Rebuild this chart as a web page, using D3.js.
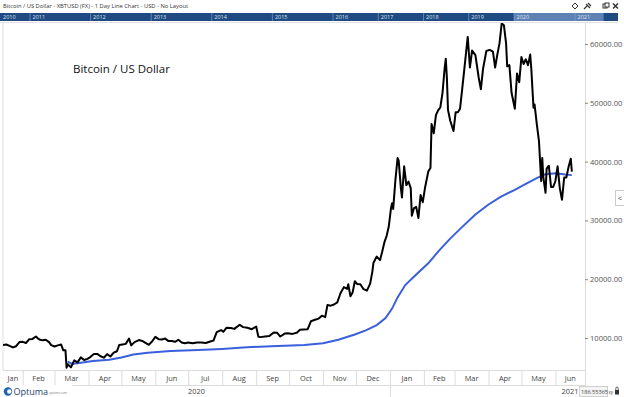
<!DOCTYPE html>
<html>
<head>
<meta charset="utf-8">
<script src="https://cdn.jsdelivr.net/npm/d3@7"></script>
<style>
body { margin: 0; background: #fff; }
svg { display: block; font-family: "Open Sans", sans-serif; }
</style>
</head>
<body>
<script>
// daily closes
const priceDates = [
  "2020-01-14","2020-01-17","2020-01-20","2020-01-23","2020-01-26","2020-01-29","2020-02-01","2020-02-04","2020-02-07","2020-02-10",
  "2020-02-13","2020-02-15","2020-02-17","2020-02-19","2020-02-22","2020-02-25","2020-02-27","2020-03-01","2020-03-04","2020-03-07",
  "2020-03-09","2020-03-11","2020-03-12","2020-03-13","2020-03-16","2020-03-19","2020-03-22","2020-03-25","2020-03-28","2020-03-31",
  "2020-04-03","2020-04-06","2020-04-09","2020-04-12","2020-04-15","2020-04-18","2020-04-21","2020-04-24","2020-04-27","2020-04-29",
  "2020-05-02","2020-05-05","2020-05-08","2020-05-10","2020-05-13","2020-05-17","2020-05-20","2020-05-23","2020-05-26","2020-05-29",
  "2020-06-01","2020-06-04","2020-06-07","2020-06-10","2020-06-13","2020-06-16","2020-06-19","2020-06-22","2020-06-25","2020-06-28",
  "2020-07-01","2020-07-05","2020-07-09","2020-07-13","2020-07-17","2020-07-21","2020-07-24","2020-07-27","2020-07-31","2020-08-02",
  "2020-08-05","2020-08-09","2020-08-12","2020-08-17","2020-08-20","2020-08-24","2020-08-28","2020-09-01","2020-09-03","2020-09-05",
  "2020-09-09","2020-09-13","2020-09-17","2020-09-20","2020-09-23","2020-09-27","2020-09-30","2020-10-04","2020-10-08","2020-10-11",
  "2020-10-14","2020-10-18","2020-10-21","2020-10-24","2020-10-28","2020-10-31","2020-11-03","2020-11-05","2020-11-08","2020-11-11",
  "2020-11-14","2020-11-17","2020-11-20","2020-11-23","2020-11-24","2020-11-26","2020-11-28","2020-11-30","2020-12-02","2020-12-05",
  "2020-12-08","2020-12-11","2020-12-14","2020-12-16","2020-12-17","2020-12-20","2020-12-23","2020-12-25","2020-12-27","2020-12-29",
  "2020-12-31","2021-01-02","2021-01-03","2021-01-04","2021-01-06","2021-01-08","2021-01-09","2021-01-11","2021-01-12","2021-01-14",
  "2021-01-16","2021-01-18","2021-01-20","2021-01-21","2021-01-23","2021-01-25","2021-01-27","2021-01-29","2021-01-31","2021-02-02",
  "2021-02-05","2021-02-07","2021-02-08","2021-02-10","2021-02-12","2021-02-14","2021-02-16","2021-02-18","2021-02-20","2021-02-21",
  "2021-02-22","2021-02-23","2021-02-25","2021-02-28","2021-03-02","2021-03-04","2021-03-06","2021-03-08","2021-03-10","2021-03-13",
  "2021-03-15","2021-03-17","2021-03-20","2021-03-23","2021-03-25","2021-03-27","2021-03-30","2021-04-02","2021-04-05","2021-04-07",
  "2021-04-09","2021-04-11","2021-04-13","2021-04-15","2021-04-17","2021-04-18","2021-04-20","2021-04-22","2021-04-25","2021-04-27",
  "2021-04-29","2021-05-01","2021-05-03","2021-05-05","2021-05-07","2021-05-09","2021-05-10","2021-05-12","2021-05-13","2021-05-15",
  "2021-05-17","2021-05-19","2021-05-20","2021-05-21","2021-05-23","2021-05-24","2021-05-26","2021-05-28","2021-05-30","2021-06-01",
  "2021-06-03","2021-06-05","2021-06-07","2021-06-09","2021-06-11","2021-06-13","2021-06-15","2021-06-16"
];
const priceValues = [
  8800,8900,8650,8400,8600,9300,9350,9150,9800,9850,
  10250,9900,9700,9600,9700,9300,8800,8550,8750,8900,
  7900,7900,4950,5550,5000,6200,5850,6700,6250,6450,
  6800,7300,7300,6900,6650,7250,6850,7500,7750,8800,
  8900,9000,9900,8750,9300,9650,9500,9170,8850,9400,
  10200,9800,9750,9900,9470,9500,9350,9700,9250,9100,
  9250,9100,9250,9250,9150,9400,9550,11000,11350,11050,
  11750,11700,11550,12250,11850,11750,11500,11950,10200,10150,
  10250,10350,10950,10900,10250,10750,10800,10700,10900,11400,
  11450,11500,12850,13050,13300,13800,13550,15600,15500,15700,
  16050,17650,18650,18350,19150,17100,17750,19650,19200,19150,
  18300,18050,19250,21300,22800,23850,23250,24700,26300,27350,
  29000,32100,32900,31950,36800,40600,40200,35500,33900,39200,
  36000,36600,35500,30800,32100,32300,30400,34300,33100,35500,
  38300,38900,46400,44800,47900,48700,49200,51700,56000,57500,
  54200,48800,47000,45200,48400,48400,49000,52400,55900,61200,
  56000,58900,58100,54300,52300,55800,58800,59000,58700,56000,
  58200,60100,63500,63200,60100,56200,56400,51700,49000,55000,
  53500,57800,56600,57400,56400,58200,55800,49150,49700,46400,
  43500,36700,40600,37300,34700,38800,39300,35700,35700,36700,
  39200,35500,33500,37300,37300,39100,40500,38300
];

// anchored average (blue)
const avgDates = [
  "2020-03-13","2020-03-17","2020-03-25","2020-04-05","2020-04-20","2020-05-01","2020-05-12","2020-05-25","2020-06-15","2020-07-10",
  "2020-08-01","2020-08-20","2020-09-15","2020-10-15","2020-11-01","2020-11-15","2020-11-30","2020-12-10","2020-12-20","2020-12-28",
  "2021-01-03","2021-01-08","2021-01-15","2021-01-25","2021-02-05","2021-02-15","2021-02-25","2021-03-08","2021-03-20","2021-04-01",
  "2021-04-12","2021-04-25","2021-05-05","2021-05-15","2021-05-22","2021-06-01","2021-06-10","2021-06-16"
];
const avgValues = [
  6000,5600,5800,6100,6300,6700,7200,7500,7800,7950,
  8150,8400,8600,8800,9100,9700,10600,11300,12200,13400,
  15000,16900,19000,20800,22700,24900,26900,28900,31000,32700,
  34000,35200,36200,37200,37800,38000,37800,37700
];

const priceTicks = [10000, 20000, 30000, 40000, 50000, 60000];
const navYears = [2010, 2011, 2012, 2013, 2014, 2015, 2016, 2017, 2018, 2019, 2020, 2021];

const width = 624, height = 397;
const plotLeft = 3, plotRight = 585, plotTop = 23, plotBottom = 370;
const parse = d3.timeParse("%Y-%m-%d");

const price = priceDates.map((d, i) => ({date: parse(d), value: priceValues[i]}));
const avg = avgDates.map((d, i) => ({date: parse(d), value: avgValues[i]}));

const x = d3.scaleTime()
  .domain([new Date(2020, 0, 14), new Date(2021, 5, 28)])
  .range([plotLeft, plotRight]);
const y = d3.scaleLinear().domain([0, 60000]).range([396.8, 44]);

const svg = d3.select("body").append("svg").attr("width", width).attr("height", height);

svg.append("defs").append("clipPath").attr("id", "plotclip")
  .append("rect").attr("x", plotLeft).attr("y", plotTop)
  .attr("width", plotRight - plotLeft).attr("height", plotBottom - plotTop);

// header
svg.append("text").attr("x", 3).attr("y", 8).attr("font-size", 5.8).attr("fill", "#333")
  .text("Bitcoin / US Dollar - XBTUSD (FX) - 1 Day Line Chart - USD - No Layout");

const icons = svg.append("g").attr("fill", "none").attr("stroke", "#333").attr("stroke-width", 1);
icons.append("path").attr("d", "M575,3 L578,6 L575,9 L572,6 Z");
icons.append("path").attr("d", "M584,9 L587,6 M586,4 L590,8 M588,3 L591,6").attr("stroke-width", 1.2);
icons.append("rect").attr("x", 603).attr("y", 4).attr("width", 4).attr("height", 4);
icons.append("rect").attr("x", 605).attr("y", 3).attr("width", 4).attr("height", 4).attr("fill", "#fff");
icons.append("path").attr("d", "M613,3.5 L618,8.5 M618,3.5 L613,8.5").attr("stroke-width", 1.5);

// navigator bar
const nav = d3.scaleLinear()
  .domain([2010, 2011, 2016, 2020, 2021, 2022])
  .range([1, 30, 333, 514, 575, 636]);
svg.append("rect").attr("x", 0).attr("y", 13).attr("width", 618).attr("height", 8).attr("fill", "#1f4a82");
svg.append("rect").attr("x", nav(2020)).attr("y", 13).attr("width", nav(2021.47) - nav(2020)).attr("height", 8)
  .attr("fill", "#5f82b5");
svg.append("g").selectAll("line").data(navYears.slice(1)).join("line")
  .attr("x1", d => nav(d)).attr("x2", d => nav(d)).attr("y1", 13).attr("y2", 21)
  .attr("stroke", "#8fa8cc").attr("stroke-width", 0.6);
svg.append("g").selectAll("text").data(navYears).join("text")
  .attr("x", d => d === 2010 ? 3 : nav(d) + 2.5).attr("y", 19.3)
  .attr("font-size", 5.5).attr("fill", "#dbe4f0").text(d => d);
svg.append("line").attr("x1", 0).attr("x2", 618).attr("y1", 22.5).attr("y2", 22.5).attr("stroke", "#e2e2e2");

// plot frame
svg.append("line").attr("x1", plotLeft).attr("x2", plotLeft).attr("y1", plotTop).attr("y2", plotBottom).attr("stroke", "#e0e0e0");
svg.append("line").attr("x1", plotRight + 0.5).attr("x2", plotRight + 0.5).attr("y1", plotTop).attr("y2", height).attr("stroke", "#dcdcdc");
svg.append("line").attr("x1", plotLeft).attr("x2", plotRight).attr("y1", plotBottom + 0.5).attr("y2", plotBottom + 0.5).attr("stroke", "#dcdcdc");

// right price axis
const yAxis = svg.append("g").attr("transform", `translate(${plotRight},0)`)
  .call(d3.axisRight(y).tickValues(priceTicks).tickFormat(d3.format(".2f")).tickSize(3).tickPadding(2));
yAxis.select(".domain").remove();
yAxis.selectAll("line").attr("stroke", "#888");
yAxis.selectAll("text").attr("font-size", 7.6).attr("fill", "#555").attr("font-family", "Open Sans, sans-serif");

// lines
const line = d3.line().x(d => x(d.date)).y(d => y(d.value));
const plotG = svg.append("g").attr("clip-path", "url(#plotclip)");
plotG.append("path").datum(avg).attr("d", line).attr("fill", "none")
  .attr("stroke", "#3a5fdc").attr("stroke-width", 2);
plotG.append("path").datum(price).attr("d", line).attr("fill", "none")
  .attr("stroke", "#000").attr("stroke-width", 2).attr("stroke-linejoin", "round");

svg.append("text").attr("x", 73).attr("y", 73).attr("font-size", 11.5).attr("fill", "#111")
  .text("Bitcoin / US Dollar");

// month row
const [d0, d1] = x.domain();
const months = d3.timeMonth.range(d3.timeMonth.floor(d0), d1);
const fmt = d3.timeFormat("%b");
svg.append("g").selectAll("line").data(months.filter(m => m > d0)).join("line")
  .attr("x1", d => x(d) + 0.5).attr("x2", d => x(d) + 0.5).attr("y1", plotBottom).attr("y2", 385)
  .attr("stroke", "#dcdcdc");
svg.append("g").selectAll("text").data(months).join("text")
  .attr("x", d => {
    const a = Math.max(x(d), plotLeft), b = Math.min(x(d3.timeMonth.offset(d, 1)), plotRight);
    return (a + b) / 2;
  })
  .attr("y", 380.5).attr("text-anchor", "middle").attr("font-size", 7.4).attr("fill", "#444")
  .text(d => fmt(d));

// year row
const yearStart = new Date(2021, 0, 1);
svg.append("line").attr("x1", 72).attr("x2", plotRight).attr("y1", 385.5).attr("y2", 385.5).attr("stroke", "#dcdcdc");
svg.append("line").attr("x1", x(yearStart) + 0.5).attr("x2", x(yearStart) + 0.5).attr("y1", 385).attr("y2", height)
  .attr("stroke", "#dcdcdc");
svg.append("text").attr("x", (plotLeft + x(yearStart)) / 2).attr("y", 394).attr("text-anchor", "middle")
  .attr("font-size", 7.4).attr("fill", "#444").text("2020");
svg.append("text").attr("x", 578.5).attr("y", 394).attr("text-anchor", "end")
  .attr("font-size", 7.4).attr("fill", "#444").text("2021");

// bottom right readout
svg.append("rect").attr("x", 579.5).attr("y", 386.5).attr("width", 28).attr("height", 10).attr("fill", "#f4f4f4").attr("stroke", "#d0d0d0");
svg.append("text").attr("x", 581).attr("y", 394).attr("font-size", 5.6).attr("fill", "#444").text("186.55365");
svg.append("text").attr("x", 608.5).attr("y", 393.5).attr("font-size", 4.5).attr("fill", "#444").text("xy");
svg.append("rect").attr("x", 615).attr("y", 390).attr("width", 4).attr("height", 4.5).attr("fill", "#333");
svg.append("path").attr("d", "M615.8,390 V388.3 A1.2,1.2 0 0 1 618.2,388.3 V390").attr("fill", "none").attr("stroke", "#333").attr("stroke-width", 0.8);

// side collapse button
svg.append("rect").attr("x", 615.5).attr("y", 190.5).attr("width", 10).attr("height", 15).attr("fill", "#fff").attr("stroke", "#ccc");
svg.append("text").attr("x", 617.5).attr("y", 201).attr("font-size", 8).attr("fill", "#555").text("<");

// Optuma logo
const logo = svg.append("g");
logo.append("circle").attr("cx", 8).attr("cy", 391.5).attr("r", 4.2).attr("fill", "#1f63b5");
logo.append("circle").attr("cx", 9.3).attr("cy", 391.5).attr("r", 2.2).attr("fill", "#fff");
logo.append("text").attr("x", 13.5).attr("y", 395).attr("font-size", 9).attr("fill", "#1e3f74").text("Optuma");
logo.append("text").attr("x", 49).attr("y", 394).attr("font-size", 3).attr("fill", "#777").text("optuma.com");
</script>
</body>
</html>
